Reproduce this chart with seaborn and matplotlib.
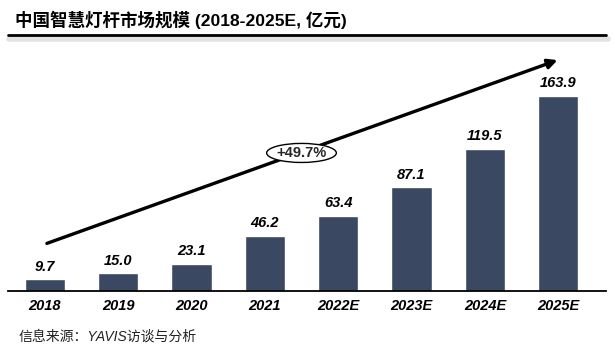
import matplotlib
matplotlib.use('Agg')
import matplotlib.pyplot as plt
import seaborn as sns
import pandas as pd
from matplotlib.lines import Line2D
from matplotlib.patches import Ellipse

years = ['2018', '2019', '2020', '2021', '2022E', '2023E', '2024E', '2025E']
market = [9.7, 15.0, 23.1, 46.2, 63.4, 87.1, 119.5, 163.9]
cagr_label = '+49.7%'
title = '中国智慧灯杆市场规模 (2018-2025E, 亿元)'
source = '信息来源：YAVIS访谈与分析'

sns.set_theme(style='white')
plt.rcParams['font.family'] = ['Liberation Sans', 'Noto Sans CJK SC', 'DejaVu Sans']

df = pd.DataFrame({'year': years, 'value': market})

fig = plt.figure(figsize=(6.15, 3.52), dpi=100)
ax = fig.add_axes([8 / 615, 1 - 291 / 352, 598 / 615, 246 / 352])

sns.barplot(data=df, x='year', y='value', color='#3b4862', width=0.55,
            saturation=1, ax=ax)
ax.set_xlim(-0.5, 7.65)
ax.set_ylim(0, 206.7)
ax.set_xlabel('')
ax.set_ylabel('')
ax.set_yticks([])
for s in ['top', 'right', 'left']:
    ax.spines[s].set_visible(False)
ax.spines['bottom'].set_color('black')
ax.spines['bottom'].set_linewidth(1.3)
ax.tick_params(axis='x', length=0, pad=6)
for lab in ax.get_xticklabels():
    lab.set_fontweight('bold')
    lab.set_fontstyle('italic')
    lab.set_fontsize(10.5)
    lab.set_color('black')

ax.bar_label(ax.containers[0], fmt='%.1f', padding=4, fontsize=10.5,
             fontweight='bold', fontstyle='italic', color='black')

# growth arrow with CAGR bubble
ax.annotate('', xy=(6.99, 194), xytext=(0.03, 40),
            arrowprops=dict(arrowstyle='-|>', color='black', lw=2.4,
                            mutation_scale=14, shrinkA=0, shrinkB=0))
ax.add_patch(Ellipse((3.5, 116), 0.95, 16, facecolor='white',
                     edgecolor='black', lw=1.0, zorder=5))
ax.text(3.5, 116, cagr_label, ha='center', va='center', fontsize=10.5,
        fontweight='bold', zorder=6)

# title and rule
fig.text(15 / 615, 1 - 20 / 352, title, fontsize=12.6, fontweight='bold',
         ha='left', va='center', color='black')
fig.add_artist(Line2D([9 / 615, 608 / 615], [1 - 38.5 / 352, 1 - 38.5 / 352],
                      color='#e2e2e2', lw=4, transform=fig.transFigure))
fig.add_artist(Line2D([8 / 615, 606 / 615], [1 - 35 / 352, 1 - 35 / 352],
                      color='black', lw=2, transform=fig.transFigure))

fig.text(19 / 615, 1 - 337 / 352, source, fontsize=10, fontstyle='italic',
         ha='left', va='center', color='#222222')

fig.savefig('out.png', dpi=100, facecolor='white')
